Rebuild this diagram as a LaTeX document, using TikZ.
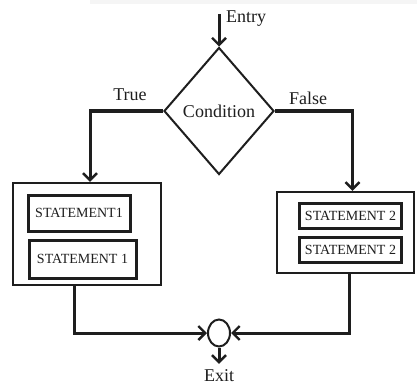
\documentclass[tikz,border=0pt]{standalone}
\usepackage{fontspec}
\setmainfont{Liberation Serif}
\usetikzlibrary{shapes.geometric,arrows.meta}
\definecolor{ink}{HTML}{1E1E1E}
\tikzset{
  conn/.style={draw=ink,line width=3pt,line join=miter},
  arr/.style={conn,-{Straight Barb[length=7pt,width=14pt,line width=2.4pt]}},
  outerbox/.style={draw=ink,line width=2.4pt,inner sep=0pt,rectangle},
  innerbox/.style={draw=ink,line width=3pt,inner sep=0pt,rectangle,font=\fontsize{14}{16}\selectfont,text=ink},
  lbl/.style={font=\fontsize{18}{20}\selectfont,text=ink,inner sep=0pt},
}
\begin{document}
\begin{tikzpicture}[x=1pt,y=-1pt]
\useasboundingbox[fill=white] (0,0) rectangle (417,385);
\fill[black!4] (90,0) rectangle (417,4);
% decision
\node[diamond,draw=ink,line width=2pt,inner sep=0pt,aspect=0.87,minimum width=110pt,minimum height=127pt] (cond) at (219,111) {};
\node[lbl] (condtxt) at (219,111) {Condition};
\coordinate (entry) at (219,14);
\node[lbl,anchor=west] (entrylbl) at (226,19) {Entry};
\node[lbl] (truelbl) at (130,95) {True};
\node[lbl] (falselbl) at (308,98) {False};
% left block
\node[outerbox,minimum width=148pt,minimum height=102pt] (lbox) at (87,234) {};
\node[innerbox,minimum width=102pt,minimum height=36pt] (l1) at (79,213) {STATEMENT1};
\node[innerbox,minimum width=107pt,minimum height=38pt] (l2) at (82.5,259) {STATEMENT 1};
% right block
\node[outerbox,minimum width=137pt,minimum height=81pt] (rbox) at (345.5,232.5) {};
\node[innerbox,minimum width=102pt,minimum height=25pt] (r1) at (350.5,215.5) {STATEMENT 2};
\node[innerbox,minimum width=102pt,minimum height=25pt] (r2) at (350.5,249.5) {STATEMENT 2};
% exit
\node[ellipse,draw=ink,line width=2pt,inner sep=0pt,minimum width=22pt,minimum height=27pt] (exit) at (219,333) {};
\node[lbl] (exitlbl) at (219,376) {Exit};
% connectors
\draw[arr] (entry) -- (cond.north);
\draw[arr] (cond.west) -| ([xshift=3pt]lbox.north);
\draw[arr] (cond.east) -| ([xshift=7pt]rbox.north);
\draw[arr] ([xshift=-13pt]lbox.south) |- (exit.west);
\draw[arr] ([xshift=4pt]rbox.south) |- (exit.east);
\draw[arr] (exit.south) -- ([yshift=6pt]exitlbl.north);
\end{tikzpicture}
\end{document}
